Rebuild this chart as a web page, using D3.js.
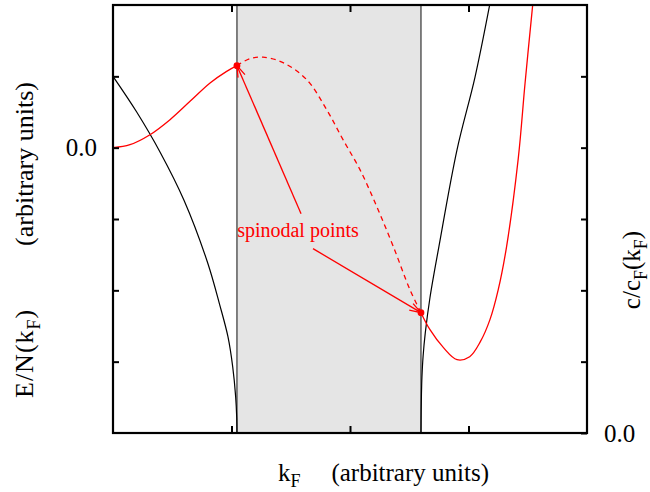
<!DOCTYPE html>
<html>
<head>
<meta charset="utf-8">
<script src="https://cdn.jsdelivr.net/npm/d3@7"></script>
<style>
  body { margin: 0; background: #fff; }
  text { font-family: "Liberation Serif", "Times New Roman", serif; }
</style>
</head>
<body>
<div id="chart"></div>
<script>
// values (k_F in axis units, E/N on the left axis, c/c_F on the right axis)
var kTicks = [1, 2, 3];
var eTicks = [-3, -2, -1, 0, 1];
var cTicks = [0, 1, 2, 3, 4, 5];

// spinodal points (edges of the grey region)
var spinK = [1.046, 2.599];
var spinE = [1.150, -2.313];

// black: sound speed, two branches
var blackLeftK = [0, 0.2, 0.4, 0.6, 0.8, 0.9, 0.97, 1.01, 1.035, 1.044, 1.046];
var blackLeftC = [5.0, 4.50, 3.93, 3.26, 2.38, 1.80, 1.35, 0.93, 0.51, 0.22, 0];
var blackRightK = [2.599, 2.6005, 2.603, 2.607, 2.617, 2.635, 2.675, 2.751, 2.903, 3.055, 3.19];
var blackRightC = [0, 0.30, 0.55, 0.78, 1.08, 1.40, 1.90, 2.62, 3.97, 4.99, 6.1];

// red: energy per particle, stable parts solid, unstable part dashed
var redLeftK = [0, 0.143, 0.312, 0.481, 0.650, 0.819, 0.959, 1.046];
var redLeftE = [0, 0.042, 0.182, 0.393, 0.650, 0.907, 1.070, 1.150];
var redMidK = [1.046, 1.156, 1.266, 1.435, 1.635, 1.803, 1.941, 2.084, 2.225, 2.365, 2.506, 2.599];
var redMidE = [1.150, 1.248, 1.269, 1.192, 0.953, 0.533, 0.112, -0.308, -0.823, -1.384, -1.991, -2.313];
var redRightK = [2.599, 2.675, 2.787, 2.903, 3.010, 3.100, 3.181, 3.251, 3.320, 3.420, 3.477, 3.542, 3.56];
var redRightE = [-2.313, -2.552, -2.800, -2.972, -2.930, -2.720, -2.411, -1.990, -1.400, -0.150, 0.900, 2.005, 2.3];

// annotation: label and the two arrow tails
var labelK = 1.561, labelE = -1.248;
var tailK = [1.587, 1.688];
var tailE = [-0.925, -1.416];

var margin = {top: 5, right: 63, bottom: 59, left: 113},
  width = 650 - margin.left - margin.right,
  height = 492 - margin.top - margin.bottom;

var svg0 = d3.select("#chart").append("svg")
  .attr("width", 650)
  .attr("height", 492);
var svg = svg0.append("g")
  .attr("transform", "translate(" + margin.left + "," + margin.top + ")");

var x = d3.scaleLinear().domain([0, 4]).range([0, width]);
var yE = d3.scaleLinear().domain([-4, 2]).range([height, 0]);
var yC = d3.scaleLinear().domain([0, 6]).range([height, 0]);

svg.append("clipPath").attr("id", "clip")
  .append("rect").attr("width", width).attr("height", height);

// grey unstable region
svg.append("rect")
  .attr("x", x(spinK[0]))
  .attr("width", x(spinK[1]) - x(spinK[0]))
  .attr("y", 0)
  .attr("height", height)
  .style("fill", "#e5e5e5");
svg.selectAll(".edge")
  .data(spinK)
  .enter().append("line")
  .attr("class", "edge")
  .attr("x1", function (d) { return x(d); })
  .attr("x2", function (d) { return x(d); })
  .attr("y1", 0)
  .attr("y2", height)
  .style("stroke", "#222")
  .style("stroke-width", 1.1);

var plot = svg.append("g").attr("clip-path", "url(#clip)");

function curve(ks, vs, ys) {
  return d3.line()
    .x(function (d, i) { return x(ks[i]); })
    .y(function (d, i) { return ys(vs[i]); })
    .curve(d3.curveCatmullRom.alpha(0.5))(ks);
}

plot.append("path").attr("d", curve(blackLeftK, blackLeftC, yC))
  .style("fill", "none").style("stroke", "#000").style("stroke-width", 1.2);
plot.append("path").attr("d", curve(blackRightK, blackRightC, yC))
  .style("fill", "none").style("stroke", "#000").style("stroke-width", 1.2);

plot.append("path").attr("d", curve(redLeftK, redLeftE, yE))
  .style("fill", "none").style("stroke", "#ff0000").style("stroke-width", 1.3);
plot.append("path").attr("d", curve(redMidK, redMidE, yE))
  .style("fill", "none").style("stroke", "#ff0000").style("stroke-width", 1.3)
  .style("stroke-dasharray", "5,4");
plot.append("path").attr("d", curve(redRightK, redRightE, yE))
  .style("fill", "none").style("stroke", "#ff0000").style("stroke-width", 1.3);

// arrows from the label to the spinodal points
var arrows = svg.append("g").style("stroke", "#ff0000").style("stroke-width", 1.3).style("fill", "none");
spinK.forEach(function (k, i) {
  var x0 = x(tailK[i]), y0 = yE(tailE[i]), x1 = x(k), y1 = yE(spinE[i]);
  var a = Math.atan2(y1 - y0, x1 - x0), len = 12, spread = 0.32;
  arrows.append("line").attr("x1", x0).attr("y1", y0).attr("x2", x1).attr("y2", y1);
  arrows.append("path").attr("d",
    "M" + (x1 - len * Math.cos(a - spread)) + "," + (y1 - len * Math.sin(a - spread)) +
    "L" + x1 + "," + y1 +
    "L" + (x1 - len * Math.cos(a + spread)) + "," + (y1 - len * Math.sin(a + spread)));
});

svg.selectAll(".spin")
  .data(spinK)
  .enter().append("circle")
  .attr("class", "spin")
  .attr("cx", function (d) { return x(d); })
  .attr("cy", function (d, i) { return yE(spinE[i]); })
  .attr("r", 3.4)
  .style("fill", "#ff0000");

svg.append("text")
  .attr("x", x(labelK))
  .attr("y", yE(labelE))
  .attr("text-anchor", "middle")
  .style("font-size", "20px")
  .style("fill", "#ff0000")
  .text("spinodal points");

// axes, ticks pointing inwards
function styleAxis(g) {
  g.select(".domain").remove();
  g.selectAll(".tick line").style("stroke", "#000").style("stroke-width", 2);
  g.selectAll(".tick text")
    .style("font-family", "'Liberation Serif', serif")
    .style("font-size", "25px")
    .style("fill", "#000");
}
svg.append("g").attr("transform", "translate(0," + height + ")")
  .call(d3.axisBottom(x).tickValues(kTicks).tickSize(-7).tickFormat(""))
  .call(styleAxis);
svg.append("g")
  .call(d3.axisTop(x).tickValues(kTicks).tickSize(-7).tickFormat(""))
  .call(styleAxis);
svg.append("g")
  .call(d3.axisLeft(yE).tickValues(eTicks).tickSize(-6).tickPadding(16)
    .tickFormat(function (d) { return d === 0 ? "0.0" : ""; }))
  .call(styleAxis);
svg.append("g").attr("transform", "translate(" + width + ",0)")
  .call(d3.axisRight(yC).tickValues(cTicks).tickSize(-6).tickPadding(17)
    .tickFormat(function (d) { return d === 0 ? "0.0" : ""; }))
  .call(styleAxis);

svg.append("rect")
  .attr("width", width).attr("height", height)
  .style("fill", "none").style("stroke", "#000").style("stroke-width", 2.2);

// axis titles
var xt = svg0.append("text")
  .attr("x", 278).attr("y", 481)
  .style("font-size", "25px");
xt.append("tspan").text("k");
xt.append("tspan").attr("dy", 6).style("font-size", "18px").text("F");
svg0.append("text")
  .attr("x", 489).attr("y", 481)
  .attr("text-anchor", "end")
  .style("font-size", "25px")
  .text("(arbitrary units)");

var yt = svg0.append("text")
  .attr("transform", "translate(33,398) rotate(-90)")
  .style("font-size", "26px")
  .style("letter-spacing", "1px");
yt.append("tspan").text("E/N(k");
yt.append("tspan").attr("dy", 7).style("font-size", "18px").text("F");
yt.append("tspan").attr("dy", -7).text(")");
svg0.append("text")
  .attr("transform", "translate(33,82) rotate(-90)")
  .attr("text-anchor", "end")
  .style("font-size", "26px")
  .text("(arbitrary units)");

var ct = svg0.append("text")
  .attr("transform", "translate(640,270) rotate(-90)")
  .attr("text-anchor", "middle")
  .style("font-size", "25px");
ct.append("tspan").text("c/c");
ct.append("tspan").attr("dy", 7).style("font-size", "18px").text("F");
ct.append("tspan").attr("dy", -7).text("(k");
ct.append("tspan").attr("dy", 7).style("font-size", "18px").text("F");
ct.append("tspan").attr("dy", -7).text(")");
</script>
</body>
</html>
